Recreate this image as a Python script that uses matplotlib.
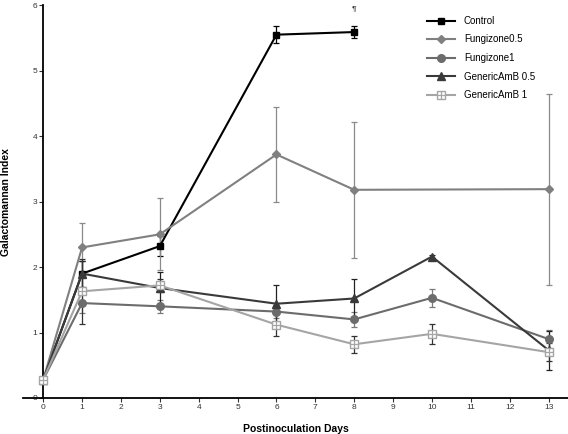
import matplotlib
matplotlib.use("Agg")
import matplotlib.pyplot as plt

plt.rcParams['font.family'] = ['Liberation Sans', 'DejaVu Sans']

days_control = [0, 1, 3, 6, 8]
control = [0.28, 1.90, 2.32, 5.55, 5.59]
control_err = [0.0, 0.20, 0.15, 0.13, 0.09]

days_f05 = [0, 1, 3, 6, 8, 13]
fung05 = [0.28, 2.30, 2.50, 3.72, 3.18, 3.19]
fung05_err = [0.0, 0.37, 0.55, 0.73, 1.04, 1.46]

days_all = [0, 1, 3, 6, 8, 10, 13]
fung1 = [0.28, 1.45, 1.40, 1.32, 1.20, 1.53, 0.90]
fung1_err = [0.0, 0.15, 0.10, 0.10, 0.12, 0.14, 0.14]

gen05 = [0.28, 1.90, 1.68, 1.44, 1.52, 2.16, 0.73]
gen05_err = [0.0, 0.20, 0.25, 0.29, 0.30, 0.02, 0.30]

gen1 = [0.28, 1.63, 1.72, 1.12, 0.82, 0.98, 0.70]
gen1_err = [0.0, 0.50, 0.10, 0.18, 0.13, 0.15, 0.14]

x_ticks = list(range(0, 14))
y_ticks = [0, 1, 2, 3, 4, 5, 6]

fig = plt.figure(figsize=(5.68, 4.34), dpi=100)
ax = fig.add_axes([0.0405, 0.083, 0.9595, 0.905])

series = [
    ("Control", days_control, control, control_err, "#000000", "#000000", dict(marker='s', ms=5)),
    ("Fungizone0.5", days_f05, fung05, fung05_err, "#808080", "#8a8a8a", dict(marker='D', ms=4)),
    ("Fungizone1", days_all, fung1, fung1_err, "#6c6c6c", "#7a7a7a", dict(marker='o', ms=5.5)),
    ("GenericAmB 0.5", days_all, gen05, gen05_err, "#3a3a3a", "#222222", dict(marker='^', ms=6)),
]

handles = []
for name, xs, ys, es, col, ecol, mk in series:
    ax.errorbar(xs, ys, yerr=es, fmt='none', ecolor=ecol, elinewidth=0.9,
                capsize=2.5, capthick=0.9, zorder=2)
    h, = ax.plot(xs, ys, color=col, lw=1.5, markerfacecolor=col,
                 markeredgecolor=col, zorder=3, **mk)
    handles.append((h, name))

# GenericAmB 1: open square with a cross
g1col = "#a5a5a5"
ax.errorbar(days_all, gen1, yerr=gen1_err, fmt='none', ecolor="#333333", elinewidth=0.9,
            capsize=2.5, capthick=0.9, zorder=2)
h1, = ax.plot(days_all, gen1, color=g1col, lw=1.5, marker='s', ms=6,
              markerfacecolor='white', markeredgecolor=g1col, markeredgewidth=1.0, zorder=3)
h2, = ax.plot(days_all, gen1, ls='none', marker='+', ms=6, markeredgecolor=g1col,
              markeredgewidth=0.9, zorder=4)
handles.append(((h1, h2), "GenericAmB 1"))

ax.text(8, 5.95, "\u00b6", ha='center', va='center', fontsize=6, color='#333333')

ax.set_xlim(-0.52, 13.5)
ax.set_ylim(0, 6)
ax.spines['left'].set_position(('data', 0))
ax.spines['top'].set_visible(False)
ax.spines['right'].set_visible(False)
ax.spines['left'].set_linewidth(1.3)
ax.spines['bottom'].set_linewidth(1.3)
ax.set_xticks(x_ticks)
ax.set_yticks(y_ticks)
ax.tick_params(axis='both', labelsize=6, colors='#333333', length=3, width=0.8,
               direction='out', pad=1.5)
ax.set_xlabel("Postinoculation Days", fontsize=7.5, fontweight='bold', labelpad=9)
fig.text(6.5 / 568, 1 - 202 / 434, "Galactomannan Index", rotation=90, fontsize=7.5,
         fontweight='bold', ha='center', va='center')

leg = ax.legend([h for h, _ in handles], [n for _, n in handles],
                loc='upper left', bbox_to_anchor=(0.725, 0.995), frameon=False,
                fontsize=7, handlelength=2.9, labelspacing=0.88, handletextpad=0.9)

fig.savefig("out.png", dpi=100)
